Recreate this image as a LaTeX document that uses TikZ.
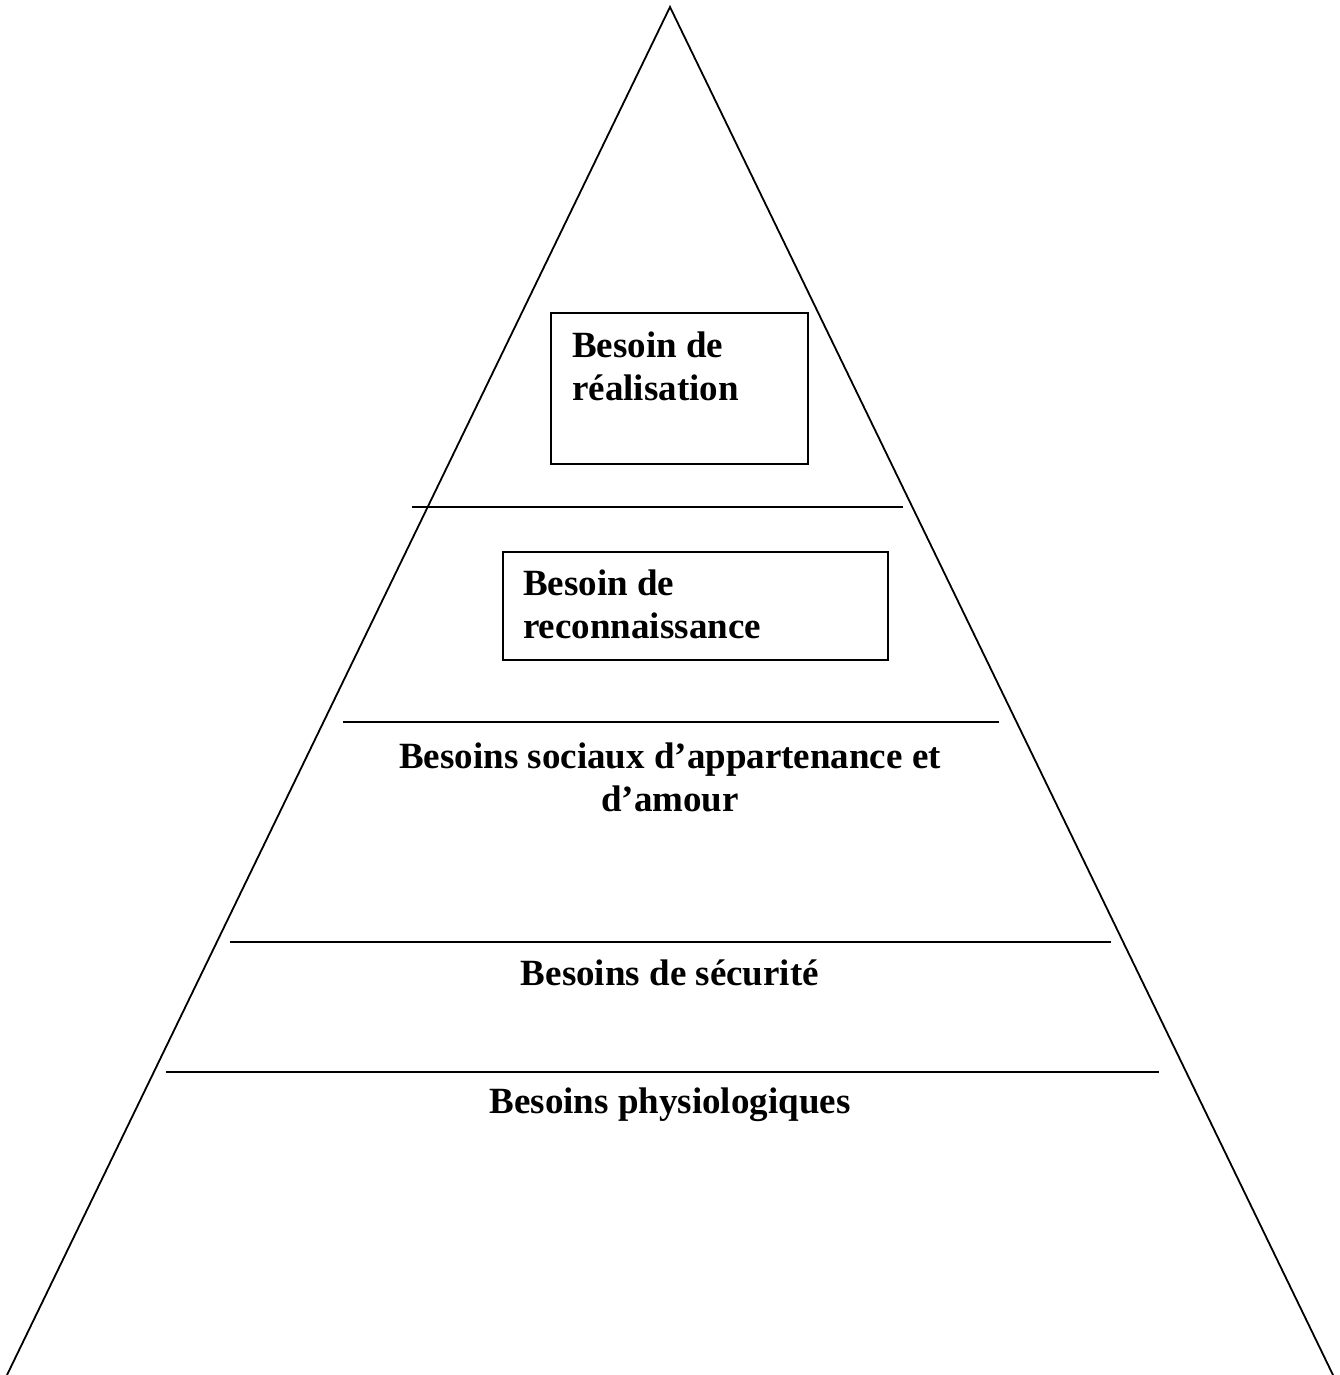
\documentclass[tikz,border=0pt]{standalone}
\usepackage{fontspec}
\setmainfont{Liberation Serif}
\usetikzlibrary{positioning}
\tikzset{
	niveau/.style={font=\fontsize{37}{43}\selectfont\bfseries, inner sep=0pt},
	cadre/.style={draw, line width=1.8pt, inner sep=0pt},
	trait/.style={line width=1.8pt}
}

\begin{document}
\begin{tikzpicture}[x=1pt,y=-1pt]
			%%%%% START %%%%%
			\useasboundingbox (0,0) rectangle (1340,1375);
			
			% pyramide
			\draw[trait, line join=miter] (7,1375) -- (670,7) -- (1333,1375);
			
			% separations
			\draw[trait] (412,507) -- (903,507);
			\draw[trait] (343,722) -- (999,722);
			\draw[trait] (230,942) -- (1111,942);
			\draw[trait] (166,1072) -- (1159,1072);
			
			% boites
			\node[cadre, anchor=north west, minimum width=257, minimum height=151] (boxreal) at (550,312) {};
			\node[cadre, anchor=north west, minimum width=385, minimum height=108] (boxreco) at (502,551) {};
			
			% textes (base = derniere ligne)
			\node[niveau, anchor=base west, align=left] (txtreal) at (572,400) {Besoin de\\réalisation};
			\node[niveau, anchor=base west, align=left] (txtreco) at (523,638) {Besoin de\\reconnaissance};
			\node[niveau, anchor=base, align=center] (txtsoc) at (670,811) {Besoins sociaux d’appartenance et\\d’amour};
			\node[niveau, anchor=base] (txtsec) at (670,985) {Besoins de sécurité};
			\node[niveau, anchor=base] (txtphys) at (670,1113) {Besoins physiologiques};
			
			%%%%% END %%%%%
\end{tikzpicture}
\end{document}
